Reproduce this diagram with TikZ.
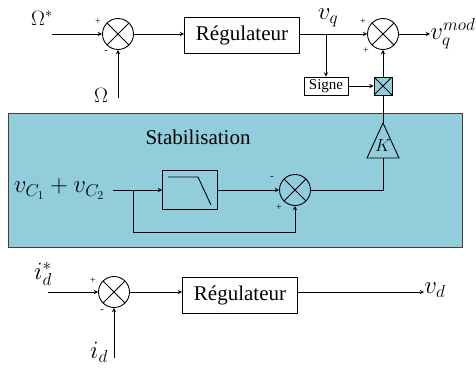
\documentclass[tikz,border=0pt]{standalone}
\usepackage{fontspec}
\setmainfont{Liberation Serif}
\definecolor{stabfill}{HTML}{92CDDC}
\begin{document}
\begin{tikzpicture}[x=1pt,y=-1pt,line width=0.9pt,
    crossed/.style={path picture={\draw (path picture bounding box.north west) -- (path picture bounding box.south east)
        (path picture bounding box.north east) -- (path picture bounding box.south west);}},
    sumnode/.style={draw,circle,crossed,minimum size=31pt,inner sep=0pt},
    regbox/.style={draw,minimum width=115pt,minimum height=36pt,inner sep=0pt,font=\fontsize{21}{25}\selectfont},
    sgn/.style={font=\fontsize{10}{10}\selectfont,inner sep=0pt},
    lbl/.style={font=\fontsize{21}{25}\selectfont,inner sep=1pt},
    mlbl/.style={font=\fontsize{24}{28}\selectfont,inner sep=0pt}]
    \useasboundingbox (0,0) rectangle (476,367);
    % stabilisation panel
    \fill[stabfill,draw=black!75] (8,113) rectangle (462,247);
    \node[lbl] (stab) at (198,137) {Stabilisation};
    % speed loop
    \node[lbl] (wref) at (42,18) {$\Omega^*$};
    \coordinate (wrefin) at (52,34);
    \node[sumnode] (s1) at (118,34) {};
    \node[sgn] at (98,22) {+};
    \node[sgn] at (106,52) {-};
    \node[lbl] (w) at (101,95) {$\Omega$};
    \coordinate (win) at (118,98);
    \node[regbox] (reg1) at (242,35) {Régulateur};
    \coordinate (vqsplit) at (326,34);
    \node[mlbl] (vq) at (328,18) {$v_q$};
    \node[sumnode] (s2) at (383,34) {};
    \node[sgn] at (363,22) {+};
    \node[sgn] at (366,51) {+};
    \node[mlbl,anchor=west] (vqmod) at (430,34) {$v_q^{mod}$};
    \node[draw,font=\fontsize{15}{15}\selectfont,minimum width=44pt,minimum height=18pt,inner sep=1pt] (signe) at (326,86) {Signe};
    \node[draw,fill=stabfill,crossed,minimum size=18pt,inner sep=0pt] (mult) at (383,86) {};
    \coordinate (Ktop) at (383,123);
    \coordinate (Kbot) at (383,158);
    \draw (367,158) -- (Ktop) -- (399,158) -- cycle;
    \node[font=\fontsize{18}{18}\selectfont] (K) at (383,146) {$K$};
    \draw[-stealth] (wrefin) -- (s1);
    \draw[-stealth] (win) -- (s1);
    \draw[-stealth] (s1) -- (s1 -| reg1.west);
    \draw[-stealth] (reg1.east |- s2) -- (s2);
    \draw[-stealth] (vqsplit) -- (signe);
    \draw[-stealth] (signe) -- (mult);
    \draw[-stealth] (mult) -- (s2);
    \draw[-stealth] (s2) -- (s2 -| vqmod.west);
    \draw (mult) -- (Ktop);
    % filter branch
    \node[mlbl] (vc) at (59,189) {$v_{C_1}+v_{C_2}$};
    \coordinate (vcin) at (113,190);
    \coordinate (vcsplit) at (133,190);
    \coordinate (fb) at (133,232);
    \node[draw,minimum width=55pt,minimum height=39pt] (lpf) at (190,190) {};
    \draw ([shift={(-22,-13)}]lpf.center) -- ++(30,0) -- ++(13,28);
    \node[sumnode] (s3) at (295,190) {};
    \node[sgn] at (272,178) {-};
    \node[sgn] at (279,208) {+};
    \draw[-stealth] (vcin) -- (lpf);
    \draw[-stealth] (lpf) -- (s3);
    \draw[-stealth] (vcsplit) -- (fb) -| (s3);
    \draw (s3) -| (Kbot);
    % current loop
    \node[mlbl] (idref) at (43,274) {$i_d^*$};
    \coordinate (idrefin) at (48,292);
    \node[sumnode] (s4) at (114,292) {};
    \node[sgn] at (93,281) {+};
    \node[sgn] at (102,311) {-};
    \node[mlbl] (id) at (99,352) {$i_d$};
    \coordinate (idin) at (114,358);
    \node[regbox] (reg2) at (240,295) {Régulateur};
    \node[mlbl,anchor=west] (vd) at (424,290) {$v_d$};
    \draw[-stealth] (idrefin) -- (s4);
    \draw[-stealth] (idin) -- (s4);
    \draw[-stealth] (s4) -- (s4 -| reg2.west);
    \draw[-stealth] (reg2.east |- s4) -- (vd.west |- s4);
\end{tikzpicture}
\end{document}
